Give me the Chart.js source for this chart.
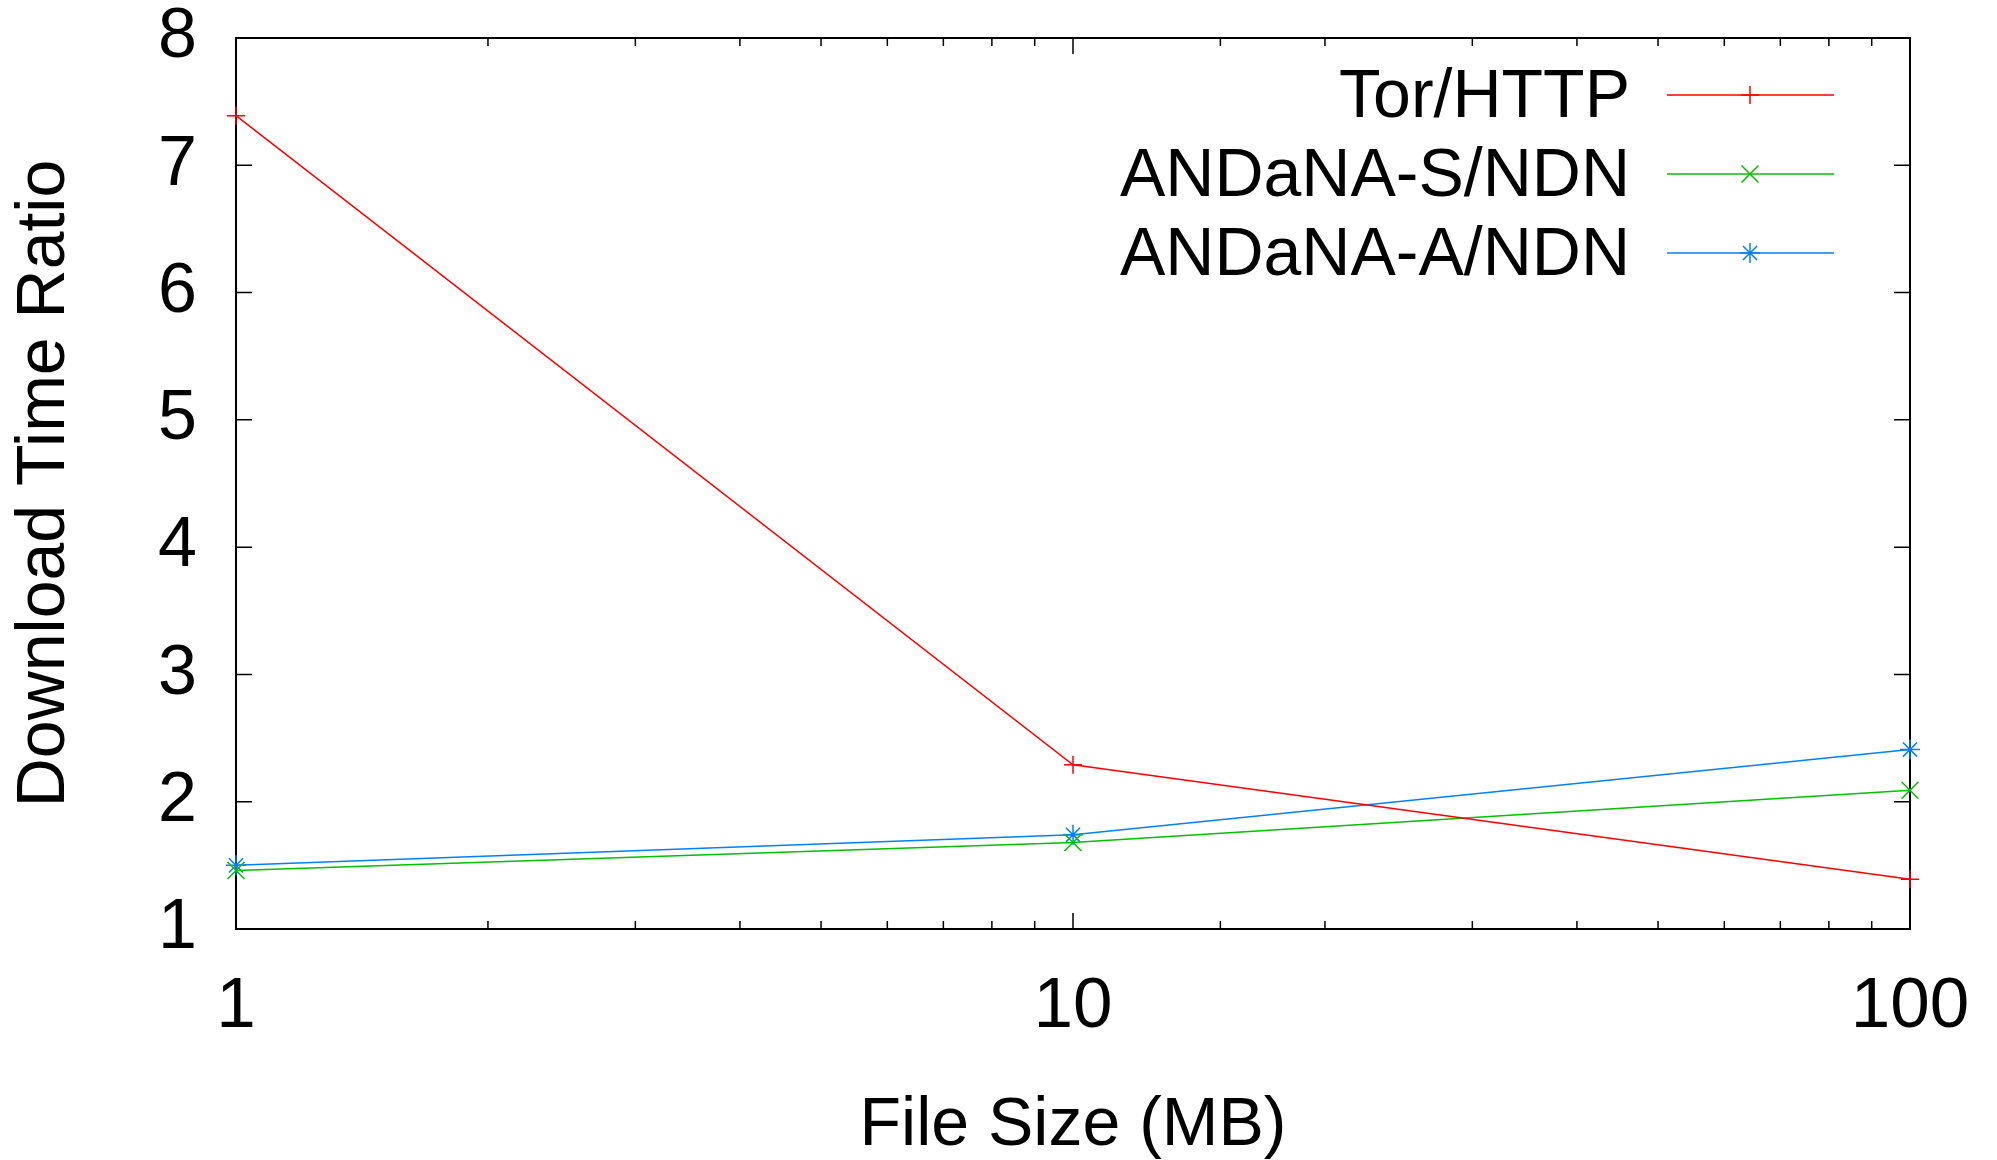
<!DOCTYPE html>
<html>
<head>
<meta charset="utf-8">
<script src="https://cdn.jsdelivr.net/npm/chart.js@4.4.1/dist/chart.umd.min.js"></script>
<style>
  html, body { margin: 0; padding: 0; background: #fff; }
  #wrap { width: 1997px; height: 1160px; }
</style>
</head>
<body>
<div id="wrap"><canvas id="ratioChart" width="1997" height="1160"></canvas></div>
<script>
// file sizes in MB (log x axis)
const fileSizes = [1, 10, 100];
// download time ratios
const torHttp = [7.39, 2.29, 1.39];
const andanaS = [1.46, 1.68, 2.09];
const andanaA = [1.50, 1.74, 2.41];
// tick labels
const xTickLabels = [1, 10, 100];
const yTickLabels = [1, 2, 3, 4, 5, 6, 7, 8];
const seriesNames = ['Tor/HTTP', 'ANDaNA-S/NDN', 'ANDaNA-A/NDN'];

const FONT = '"Liberation Sans", Arial, Helvetica, sans-serif';

function toPoints(ys) {
  return fileSizes.map((x, i) => ({ x: x, y: ys[i] }));
}

// gnuplot-like frame with inward ticks on all four sides
const framePlugin = {
  id: 'frame',
  beforeDatasetsDraw(chart) {
    const ctx = chart.ctx;
    const a = chart.chartArea;
    const xs = chart.scales.x;
    const ys = chart.scales.y;
    ctx.save();
    ctx.strokeStyle = '#000';
    ctx.lineWidth = 1.5;
    ctx.beginPath();
    xs.ticks.forEach(t => {
      const px = xs.getPixelForValue(t.value);
      const len = xTickLabels.includes(t.value) ? 16 : 8;
      ctx.moveTo(px, a.bottom); ctx.lineTo(px, a.bottom - len);
      ctx.moveTo(px, a.top); ctx.lineTo(px, a.top + len);
    });
    yTickLabels.forEach(v => {
      const py = ys.getPixelForValue(v);
      ctx.moveTo(a.left, py); ctx.lineTo(a.left + 16, py);
      ctx.moveTo(a.right, py); ctx.lineTo(a.right - 16, py);
    });
    ctx.stroke();
    ctx.lineWidth = 2;
    ctx.strokeRect(a.left, a.top, a.right - a.left, a.bottom - a.top);
    ctx.restore();
  }
};

// key in the top right: label right-aligned, then line sample with marker
const keyPlugin = {
  id: 'key',
  afterDatasetsDraw(chart) {
    const ctx = chart.ctx;
    const a = chart.chartArea;
    ctx.save();
    ctx.font = '68px ' + FONT;
    ctx.textAlign = 'right';
    ctx.textBaseline = 'middle';
    chart.data.datasets.forEach((ds, i) => {
      const y = a.top + 57 + i * 79;
      ctx.fillStyle = '#000';
      ctx.fillText(ds.label, a.right - 280, y + 3);
      ctx.strokeStyle = ds.borderColor;
      ctx.lineWidth = 1.5;
      ctx.beginPath();
      ctx.moveTo(a.right - 243, y);
      ctx.lineTo(a.right - 76, y);
      ctx.stroke();
      Chart.helpers.drawPoint(ctx, {
        pointStyle: ds.pointStyle, rotation: 0, radius: ds.pointRadius, borderWidth: 1.5
      }, a.right - 160, y);
    });
    ctx.restore();
  }
};

function makeSet(label, data, color, style, radius) {
  return {
    label: label,
    data: toPoints(data),
    borderColor: color,
    backgroundColor: color,
    borderWidth: 1.5,
    pointStyle: style,
    pointRadius: radius,
    pointBorderWidth: 1.5,
    pointBorderColor: color,
    tension: 0,
    clip: false
  };
}

const ctx = document.getElementById('ratioChart').getContext('2d');
const ratioChart = new Chart(ctx, {
  type: 'line',
  data: {
    datasets: [
      makeSet(seriesNames[0], torHttp, '#ff0000', 'cross', 9),
      makeSet(seriesNames[1], andanaS, '#00c000', 'crossRot', 12),
      makeSet(seriesNames[2], andanaA, '#0080ff', 'star', 10)
    ]
  },
  options: {
    responsive: false,
    animation: false,
    layout: { padding: { top: 38, right: 87, left: 0, bottom: 0 } },
    plugins: {
      legend: { display: false },
      tooltip: { enabled: false },
      title: { display: false }
    },
    scales: {
      x: {
        type: 'logarithmic',
        min: 1,
        max: 100,
        afterFit(scale) {
          scale.height = 231;
          scale.paddingLeft = 0;
          scale.paddingRight = 0;
        },
        grid: { display: false, drawTicks: false },
        border: { display: false },
        ticks: {
          autoSkip: false,
          maxRotation: 0,
          padding: 43,
          color: '#000',
          font: { family: FONT, size: 71, lineHeight: 1.0 },
          callback: (v) => xTickLabels.includes(v) ? String(v) : ''
        },
        title: {
          display: true,
          text: 'File Size (MB)',
          color: '#000',
          padding: 0,
          font: { family: FONT, size: 68, lineHeight: 1.0 }
        }
      },
      y: {
        min: 1,
        max: 8,
        afterFit(scale) {
          scale.width = 236;
          scale.paddingTop = 0;
          scale.paddingBottom = 0;
        },
        grid: { display: false, drawTicks: false },
        border: { display: false },
        ticks: {
          stepSize: 1,
          padding: 39,
          color: '#000',
          font: { family: FONT, size: 70, lineHeight: 1.0 },
          callback: (v) => yTickLabels.includes(v) ? String(v) : ''
        },
        title: {
          display: true,
          text: 'Download Time Ratio',
          color: '#000',
          padding: { top: 11, bottom: 0 },
          font: { family: FONT, size: 68, lineHeight: 1.0 }
        }
      }
    }
  },
  plugins: [framePlugin, keyPlugin]
});
</script>
</body>
</html>
